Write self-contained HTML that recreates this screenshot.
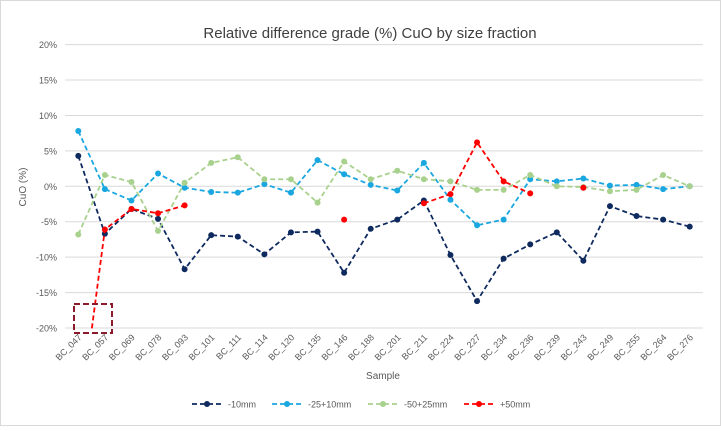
<!DOCTYPE html>
<html><head><meta charset="utf-8"><style>
body{margin:0;background:#fff;}
svg text{font-family:"Liberation Sans",sans-serif;fill:#595959;}
</style></head><body>
<svg id="chart" width="721" height="426" viewBox="0 0 721 426" xmlns="http://www.w3.org/2000/svg">
<rect x="0.5" y="0.5" width="720" height="425" fill="#fff" stroke="#d9d9d9"/>
<text x="370" y="38" text-anchor="middle" font-size="15" style="fill:#404040">Relative difference grade (%) CuO by size fraction</text>
<text transform="translate(26,187) rotate(-90)" text-anchor="middle" font-size="10">CuO (%)</text>
<text x="383" y="379" text-anchor="middle" font-size="10">Sample</text>
<defs><clipPath id="plotclip"><rect x="65" y="45" width="638" height="283.5"/></clipPath></defs>
<g id="grid"></g><g id="xlabels"></g><g id="ylabels"></g>
<g id="series" clip-path="url(#plotclip)"></g>
<rect x="74" y="304" width="38" height="29" fill="none" stroke="#8b1a2b" stroke-width="2" stroke-dasharray="6,3"/>
<g id="legend"></g>
</svg>
<script>
const categories=["BC_047","BC_057","BC_069","BC_078","BC_093","BC_101","BC_111","BC_114","BC_120","BC_135","BC_146","BC_188","BC_201","BC_211","BC_224","BC_227","BC_234","BC_236","BC_239","BC_243","BC_249","BC_255","BC_264","BC_276"];
const s10=[4.3,-6.7,-3.2,-4.6,-11.7,-6.9,-7.1,-9.6,-6.5,-6.4,-12.2,-6.0,-4.7,-2.0,-9.7,-16.2,-10.2,-8.2,-6.5,-10.5,-2.8,-4.2,-4.7,-5.7];
const s25=[7.8,-0.4,-2.0,1.8,-0.2,-0.8,-0.9,0.3,-0.9,3.7,1.7,0.2,-0.6,3.3,-1.9,-5.5,-4.7,1.0,0.7,1.1,0.1,0.2,-0.4,0.0];
const s50=[-6.8,1.6,0.6,-6.3,0.5,3.3,4.1,1.0,1.0,-2.3,3.5,1.0,2.2,1.0,0.7,-0.5,-0.5,1.6,0.0,-0.1,-0.7,-0.5,1.6,0.0];
const sP50=[-34.6,-6.1,-3.2,-3.8,-2.7,null,null,null,null,null,-4.7,null,null,-2.4,-1.1,6.2,0.7,-1.0,null,-0.2,null,null,null,null];
const yTicks=[20,15,10,5,0,-5,-10,-15,-20];
const NS="http://www.w3.org/2000/svg";
const X0=65,W=638,Y0=186.3,K=7.085;
const xs=i=>X0+W/categories.length*(i+0.5);
const ys=v=>Y0-v*K;
function mk(t,a,p){const e=document.createElementNS(NS,t);for(const k in a)e.setAttribute(k,a[k]);p.appendChild(e);return e;}
const grid=document.getElementById('grid'),yl=document.getElementById('ylabels'),xl=document.getElementById('xlabels');
yTicks.forEach(v=>{
 const l=mk('line',{x1:X0,x2:X0+W,y1:ys(v),y2:ys(v),stroke:'#d9d9d9','stroke-width':1},grid);
 
 
 const t=mk('text',{x:57,y:ys(v)+3.5,'text-anchor':'end','font-size':9},yl);t.textContent=v+'%';
 
 
});
categories.forEach((c,i)=>{
 const t=mk('text',{transform:`translate(${xs(i)+4},338) rotate(-45)`,'text-anchor':'end','font-size':9},xl);t.textContent=c;
 
 
});
const ser=document.getElementById('series');
function draw(vals,color,name){
 const g=mk('g',{},ser);
 
 
 let d='',pen=false;
 vals.forEach((v,i)=>{if(v===null){pen=false;return;}d+=(pen?'L':'M')+xs(i)+','+ys(v)+' ';pen=true;});
 mk('path',{d:d,fill:'none',stroke:color,'stroke-width':1.8,'stroke-dasharray':'5,3'},g);
 vals.forEach((v,i)=>{if(v===null)return;const c=mk('circle',{cx:xs(i),cy:ys(v),r:3,fill:color},g);
  
  });
}
draw(s10,'#0e2a5e','minus-10mm');
draw(s25,'#1aa7e0','minus-25-plus-10mm');
draw(s50,'#a9d18e','minus-50-plus-25mm');
draw(sP50,'#ff0000','plus-50mm');
const lg=document.getElementById('legend');
[['-10mm','#0e2a5e',192],['-25+10mm','#1aa7e0',272],['-50+25mm','#a9d18e',368],['+50mm','#ff0000',464]].forEach(([n,c,x])=>{
 const g=mk('g',{},lg);
 
 
 mk('line',{x1:x,x2:x+30,y1:404,y2:404,stroke:c,'stroke-width':1.8,'stroke-dasharray':'5,3'},g);
 mk('circle',{cx:x+15,cy:404,r:3,fill:c},g);
 const t=mk('text',{x:x+36,y:407.5,'font-size':9},g);t.textContent=n;
});
</script>
</body></html>
